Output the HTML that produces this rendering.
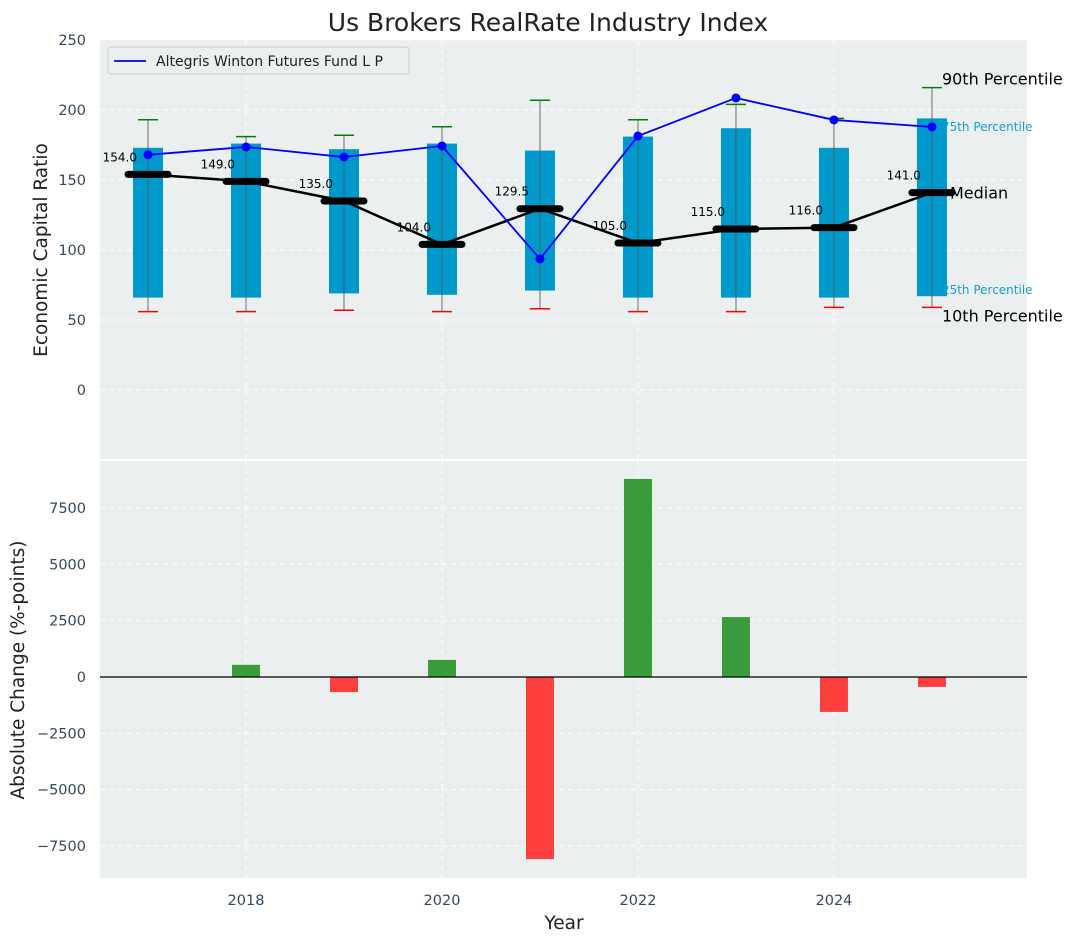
<!DOCTYPE html>
<html><head><meta charset="utf-8"><style>
html,body{margin:0;padding:0;background:#fff;}
svg{display:block;font-family:"DejaVu Sans","Liberation Sans",sans-serif;}
</style></head><body>
<svg id="chart" width="1077" height="942" viewBox="0 0 1077 942"></svg>
<script>
const years = [2017,2018,2019,2020,2021,2022,2023,2024,2025];
const p90 = [193,181,182,188,207,193,204,194,216];
const p75 = [173,176,172,176,171,181,187,173,194];
const medians = [154,149,135,104,129.5,105,115,116,141];
const p25 = [66,66,69,68,71,66,66,66,67];
const p10 = [56,56,57,56,58,56,56,59,59];
const fundValues = [168,173.6,166.4,174.3,93.6,181.4,208.6,192.9,187.9];
const changeYears = [2018,2019,2020,2021,2022,2023,2024,2025];
const changes = [540,-670,760,-8080,8790,2660,-1550,-440];
const topTicks = [0,50,100,150,200,250];
const botTicks = [-7500,-5000,-2500,0,2500,5000,7500];
const xTicks = [2018,2020,2022,2024];

const NS="http://www.w3.org/2000/svg";
const svg=document.getElementById('chart');
function el(tag,attrs,parent,text){const e=document.createElementNS(NS,tag);for(const k in attrs)e.setAttribute(k,attrs[k]);if(text!==undefined)e.textContent=text;(parent||svg).appendChild(e);return e;}
const X0=100,X1=1027,XMIN=2016.51,XMAX=2025.97;
const x=v=>X0+(v-XMIN)/(XMAX-XMIN)*(X1-X0);
const T0=40,T1=460,YMIN=-50,YMAX=250;
const yT=v=>T1-(v-YMIN)/(YMAX-YMIN)*(T1-T0);
const B0=460,B1=878,BMIN=-8921,BMAX=9631;
const yB=v=>B1-(v-BMIN)/(BMAX-BMIN)*(B1-B0);

let t=el('text',{x:548,y:31,'text-anchor':'middle','font-size':25,fill:'#222'},svg,'Us Brokers RealRate Industry Index');


let pt=el('rect',{x:X0,y:T0,width:X1-X0,height:T1-T0,fill:'#ebeff0'});

let pb=el('rect',{x:X0,y:B0+1,width:X1-X0,height:B1-B0-1,fill:'#ebeff0'});

el('line',{x1:X0,x2:X1,y1:B0,y2:B0,stroke:'#fff','stroke-width':2});

xTicks.forEach(v=>{
  el('line',{x1:x(v),x2:x(v),y1:T0,y2:T1,stroke:'#fff','stroke-dasharray':'5,4','stroke-width':1});
  el('line',{x1:x(v),x2:x(v),y1:B0,y2:B1,stroke:'#fff','stroke-dasharray':'5,4','stroke-width':1});
  const l=el('text',{x:x(v),y:905,'text-anchor':'middle','font-size':14.5,fill:'#34495e'},svg,String(v));
  
});
topTicks.forEach(v=>{
  el('line',{x1:X0,x2:X1,y1:yT(v),y2:yT(v),stroke:'#fff','stroke-dasharray':'5,4','stroke-width':1});
  const l=el('text',{x:86,y:yT(v)+5,'text-anchor':'end','font-size':14.5,fill:'#34495e'},svg,String(v));
  
});
botTicks.forEach(v=>{
  el('line',{x1:X0,x2:X1,y1:yB(v),y2:yB(v),stroke:'#fff','stroke-dasharray':'5,4','stroke-width':1});
  const l=el('text',{x:86,y:yB(v)+5,'text-anchor':'end','font-size':14.5,fill:'#34495e'},svg,v<0?'\u2212'+Math.abs(v):String(v));
  
});

let a=el('text',{x:0,y:0,transform:'translate(47,250) rotate(-90)','text-anchor':'middle','font-size':18.5,fill:'#222'},svg,'Economic Capital Ratio');

a=el('text',{x:0,y:0,transform:'translate(24,670) rotate(-90)','text-anchor':'middle','font-size':18.5,fill:'#222'},svg,'Absolute Change (%-points)');

a=el('text',{x:564,y:929,'text-anchor':'middle','font-size':18.5,fill:'#222'},svg,'Year');


years.forEach((yr,i)=>{
  const cx=x(yr);
  const r=el('rect',{x:cx-15,y:yT(p75[i]),width:30,height:yT(p25[i])-yT(p75[i]),fill:'#0099cc'});
  
  el('line',{x1:cx,x2:cx,y1:yT(p90[i]),y2:yT(p10[i]),stroke:'#555','stroke-opacity':0.7,'stroke-width':1.2});
  const g=el('line',{x1:cx-10,x2:cx+10,y1:yT(p90[i]),y2:yT(p90[i]),stroke:'green','stroke-width':1.5});
  
  const rr=el('line',{x1:cx-10,x2:cx+10,y1:yT(p10[i]),y2:yT(p10[i]),stroke:'red','stroke-width':1.5});
  
});
let ml=el('polyline',{points:years.map((yr,i)=>x(yr)+','+yT(medians[i])).join(' '),fill:'none',stroke:'#000','stroke-width':2.5});

years.forEach((yr,i)=>{
  const m=el('line',{x1:x(yr)-20,x2:x(yr)+20,y1:yT(medians[i]),y2:yT(medians[i]),stroke:'#000','stroke-width':7,'stroke-linecap':'round'});
  
  const l=el('text',{x:x(yr)-11,y:yT(medians[i])-13,'text-anchor':'end','font-size':12,fill:'#000'},svg,medians[i].toFixed(1));
  
});
let fl=el('polyline',{points:years.map((yr,i)=>x(yr)+','+yT(fundValues[i])).join(' '),fill:'none',stroke:'#0000ff','stroke-width':1.8});

years.forEach((yr,i)=>{
  const c=el('circle',{cx:x(yr),cy:yT(fundValues[i]),r:4.5,fill:'#0000ff'});
  
});

const last=years.length-1, lx=x(years[last]);
[['90th Percentile',lx+10,yT(p90[last])-3,16,'#000'],['75th Percentile',lx+10,yT(fundValues[last])+4,12,'#1a9fcf'],
 ['Median',lx+18,yT(medians[last])+6,16,'#000'],['25th Percentile',lx+10,yT(p25[last])-2,12,'#1a9fcf'],
 ['10th Percentile',lx+10,yT(p10[last])+14,16,'#000']].forEach(d=>{
  const l=el('text',{x:d[1],y:d[2],'font-size':d[3],fill:d[4]},svg,d[0]);
  
});

const lg=el('g',{});

el('rect',{x:108,y:47,width:301,height:27,rx:3,fill:'#ebeff0',stroke:'#ccc'},lg);
el('line',{x1:114,x2:146,y1:61,y2:61,stroke:'#0000ff','stroke-width':1.8},lg);
el('text',{x:156,y:66,'font-size':14,fill:'#222'},lg,'Altegris Winton Futures Fund L P');

changeYears.forEach((yr,i)=>{
  const v=changes[i];
  const y0=yB(Math.max(v,0)),y1=yB(Math.min(v,0));
  const b=el('rect',{x:x(yr)-14,y:y0,width:28,height:y1-y0,fill:v>=0?'#3a9b3a':'#ff3e3e'});
  
});
el('line',{x1:X0,x2:X1,y1:yB(0),y2:yB(0),stroke:'#000','stroke-width':1.2});
</script>
</body></html>
